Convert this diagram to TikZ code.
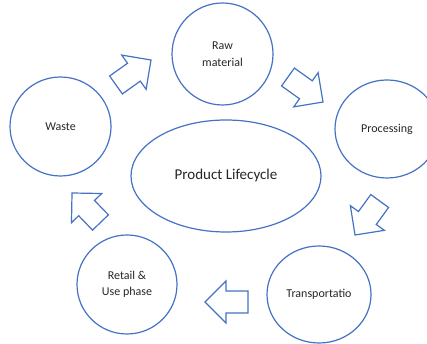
\documentclass[tikz,border=0pt]{standalone}
\usepackage{fontspec}
\setmainfont{Carlito}
\usetikzlibrary{shapes.geometric}
\definecolor{ringblue}{HTML}{4472C4}
\definecolor{labelgray}{HTML}{262626}
\begin{document}
\begin{tikzpicture}[x=1pt,y=1pt,
  stage/.style={ellipse,draw=ringblue,line width=1.2pt,fill=white,inner sep=0pt,
    align=center,text=labelgray,font=\fontsize{12}{16.5}\selectfont},
  hub/.style={stage,font=\fontsize{15}{18}\selectfont},
  arrowline/.style={draw=ringblue,line width=1.2pt,fill=white,line join=miter},
  % hollow block arrow, tip at the origin, pointing along +x; #1 = overall length
  blockarrow/.pic={
    \path[arrowline] (-#1,-11) -- (-21,-11) -- (-21,-21) -- (0,0)
      -- (-21,21) -- (-21,11) -- (-#1,11) -- cycle;
  }]
\fill[white] (0,0) rectangle (427,344);
\clip (0,0) rectangle (427,344);

% life-cycle stages
\node[stage,minimum width=101pt,minimum height=102pt] (raw) at (222.5,290) {Raw\\material};
\node[stage,minimum width=104pt,minimum height=98pt] (proc) at (387,215) {Processing};
\node[stage,minimum width=104pt,minimum height=97pt] (trans) at (319,49.5) {Transportatio};
\node[stage,minimum width=100pt,minimum height=99pt] (retail) at (127,59.5) {Retail \&\\Use phase};
\node[stage,minimum width=101pt,minimum height=99pt] (waste) at (60.5,217.5) {Waste};

% central label
\node[hub,minimum width=190pt,minimum height=112pt] (hub) at (226,168) {Product Lifecycle};

% block arrows between the stages (placed by their tips)
\pic[rotate=35.5] (a1) at (151,284) {blockarrow=43};
\pic[rotate=-35.5] (a2) at (323,242) {blockarrow=43};
\pic[rotate=-126] (a3) at (355,109) {blockarrow=42};
\pic[rotate=180] (a4) at (205,42) {blockarrow=43};
\pic[rotate=134] (a5) at (72,151) {blockarrow=41};
\end{tikzpicture}
\end{document}
